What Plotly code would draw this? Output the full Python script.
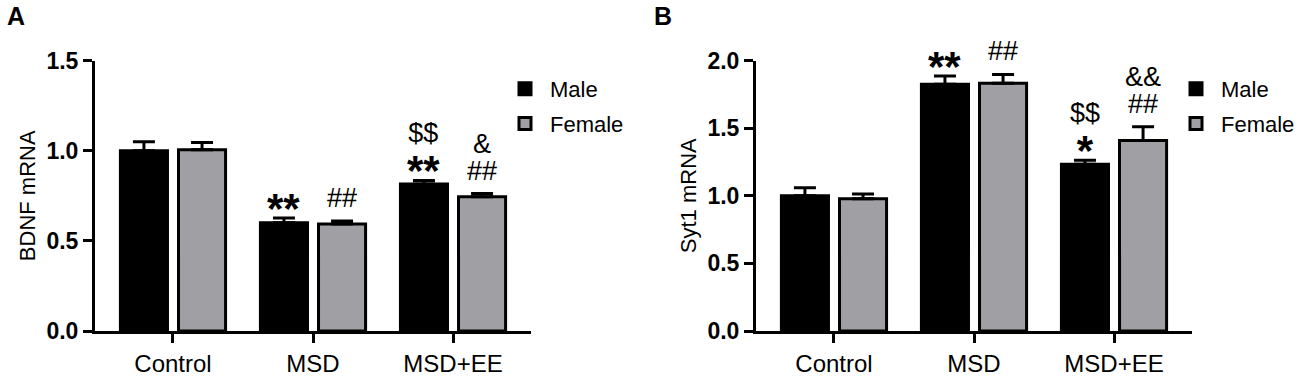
import plotly.graph_objects as go

categories = ["Control", "MSD", "MSD+EE"]
series_names = ["Male", "Female"]

bdnf_male = [1.00, 0.60, 0.815]
bdnf_male_err = [0.05, 0.026, 0.02]
bdnf_female = [1.005, 0.593, 0.745]
bdnf_female_err = [0.04, 0.017, 0.017]

syt1_male = [1.00, 1.824, 1.233]
syt1_male_err = [0.06, 0.061, 0.029]
syt1_female = [0.977, 1.832, 1.409]
syt1_female_err = [0.036, 0.065, 0.102]

# significance marks per bar, listed bottom to top
bdnf_male_marks = [[], ["**"], ["**", "$$"]]
bdnf_female_marks = [[], ["##"], ["##", "&"]]
syt1_male_marks = [[], ["**"], ["*", "$$"]]
syt1_female_marks = [[], ["##"], ["##", "&&"]]

bdnf_ticks = [0.0, 0.5, 1.0, 1.5]
syt1_ticks = [0.0, 0.5, 1.0, 1.5, 2.0]

MALE_COLOR = "#000000"
FEMALE_COLOR = "#a0a0a4"
FONT = "Liberation Sans, Arial, sans-serif"
BARGAP = 0.17
BARGROUPGAP = 0.19

W, H = 1300, 379
y_dom = [(H - 331) / H, (H - 60.5) / H]
xdomA = [95 / W, 531 / W]
xdomB = [756 / W, 1192 / W]

fig = go.Figure()


def add_panel(male, male_err, female, female_err, xa, ya, legend):
    for name, vals, errs, color in [("Male", male, male_err, MALE_COLOR),
                                    ("Female", female, female_err, FEMALE_COLOR)]:
        fig.add_trace(go.Bar(
            x=categories, y=vals, name=name,
            marker=dict(color=color, line=dict(color="black", width=3)),
            error_y=dict(type="data", symmetric=False, array=errs,
                         arrayminus=[0] * len(errs), color="black",
                         thickness=3, width=11),
            xaxis=xa, yaxis=ya, legend=legend, legendgroup=legend + name,
        ))


add_panel(bdnf_male, bdnf_male_err, bdnf_female, bdnf_female_err, "x", "y", "legend")
add_panel(syt1_male, syt1_male_err, syt1_female, syt1_female_err, "x2", "y2", "legend2")

axis_common = dict(showline=True, linecolor="black", linewidth=3, ticks="outside",
                   ticklen=9, tickwidth=3, tickcolor="black", showgrid=False,
                   zeroline=False, automargin=False)
xcommon = dict(axis_common, range=[-0.557, 2.557], ticklabelstandoff=0,
               tickfont=dict(family=FONT, size=24, color="black"))
ycommon = dict(axis_common, tickformat=".1f",
               tickfont=dict(family=FONT, size=23, color="black", weight="bold"))
title_font = dict(family=FONT, size=22, color="black")
legend_common = dict(xanchor="left", yanchor="top",
                     font=dict(family=FONT, size=22, color="black"), tracegroupgap=3,
                     traceorder="grouped", bgcolor="rgba(0,0,0,0)", itemwidth=40)

fig.update_layout(
    width=W, height=H, margin=dict(l=0, r=0, t=0, b=0, autoexpand=False),
    plot_bgcolor="white", paper_bgcolor="white",
    barmode="group", bargap=BARGAP, bargroupgap=BARGROUPGAP,
    xaxis=dict(xcommon, domain=xdomA, anchor="y"),
    yaxis=dict(ycommon, domain=y_dom, anchor="x", range=[0, 1.5], tickvals=bdnf_ticks,
               title=dict(text="BDNF mRNA", font=title_font, standoff=5)),
    xaxis2=dict(xcommon, domain=xdomB, anchor="y2"),
    yaxis2=dict(ycommon, domain=y_dom, anchor="x2", range=[0, 2.0], tickvals=syt1_ticks,
                title=dict(text="Syt1 mRNA", font=title_font, standoff=5)),
    legend=dict(legend_common, x=500 / W, y=(H - 68) / H),
    legend2=dict(legend_common, x=1171 / W, y=(H - 68) / H),
)

offset = (1 - BARGAP) / 4
STAR = "<span style='font-size:42px;font-weight:bold'>{}</span>"
SYM = "<span style='font-size:27px'>{}</span>"


def add_marks(marks_list, vals, errs, sign, xref, yref):
    for i, marks in enumerate(marks_list):
        if not marks:
            continue
        star_bottom = marks[0].startswith("*")
        parts = [STAR.format(m) if m.startswith("*") else SYM.format(m) for m in marks]
        fig.add_annotation(
            x=i + sign * offset, y=vals[i] + errs[i], xref=xref, yref=yref,
            text="<br>".join(reversed(parts)), showarrow=False,
            yanchor="bottom", xanchor="center", align="center",
            yshift=-16 if star_bottom else 6,
            font=dict(family=FONT, size=33 if star_bottom else 21, color="black"),
        )


add_marks(bdnf_male_marks, bdnf_male, bdnf_male_err, -1, "x", "y")
add_marks(bdnf_female_marks, bdnf_female, bdnf_female_err, 1, "x", "y")
add_marks(syt1_male_marks, syt1_male, syt1_male_err, -1, "x2", "y2")
add_marks(syt1_female_marks, syt1_female, syt1_female_err, 1, "x2", "y2")

for label, xp in [("A", 16), ("B", 663)]:
    fig.add_annotation(x=xp / W, y=(H - 16) / H, xref="paper", yref="paper",
                       text=label, showarrow=False, xanchor="center", yanchor="middle",
                       font=dict(family=FONT, size=25, color="black", weight="bold"))

fig.write_html("out.html", config={"displayModeBar": False},
               post_script="document.body.style.margin='0px';")
